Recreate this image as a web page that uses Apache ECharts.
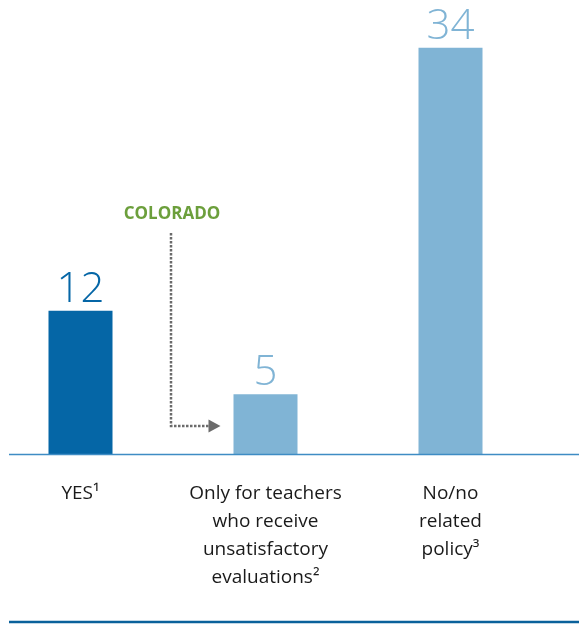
<!DOCTYPE html>
<html>
<head>
<meta charset="utf-8">
<script src="https://cdn.jsdelivr.net/npm/echarts@6/dist/echarts.min.js"></script>
<style>
  html, body { margin: 0; padding: 0; background: #fff; }
  #chart { width: 579px; height: 624px; }
</style>
</head>
<body>
<div id="chart"></div>
<script>
// Number of states by policy answer
const categories = [
  'YES¹',
  'Only for teachers\nwho receive\nunsatisfactory\nevaluations²',
  'No/no\nrelated\npolicy³'
];
const counts = [12, 5, 34];
const barColors = ['#0566a6', '#80b4d5', '#80b4d5'];
const calloutText = 'COLORADO';

const chart = echarts.init(document.getElementById('chart'));

const option = {
  animation: false,
  grid: { left: -12, width: 555, top: 0, bottom: 170, outerBoundsMode: 'none', containLabel: false },
  xAxis: {
    type: 'category',
    data: categories,
    axisLine: { show: false },
    axisTick: { show: false },
    axisLabel: {
      interval: 0,
      margin: 26,
      fontFamily: 'Open Sans',
      fontSize: 19,
      lineHeight: 28,
      color: '#1a1a1a',
      align: 'center'
    }
  },
  yAxis: {
    type: 'value',
    min: 0,
    max: 38,
    show: false,
    splitLine: { show: false }
  },
  series: [{
    type: 'bar',
    barWidth: 64,
    data: counts.map((v, i) => ({
      value: v,
      itemStyle: { color: barColors[i] },
      label: { color: barColors[i] }
    })),
    label: {
      show: true,
      position: 'top',
      distance: 0,
      fontFamily: 'Open Sans',
      fontWeight: 300,
      fontSize: 42
    }
  }]
};
chart.setOption(option);

// Baseline, bottom rule and the callout arrow
const y0 = chart.convertToPixel({ gridIndex: 0 }, [0, 0])[1];
const p5 = chart.convertToPixel({ gridIndex: 0 }, [1, counts[1]]);
const arrowY = y0 - 28;
const lineX = 171;
const arrowTipX = p5[0] - 32 - 13;

chart.setOption({
  graphic: [
    {
      type: 'line',
      shape: { x1: 9, y1: y0 + 0.5, x2: 579, y2: y0 + 0.5 },
      style: { stroke: '#3e8cc4', lineWidth: 1.5 },
      z: 10
    },
    {
      type: 'line',
      shape: { x1: 9, y1: 622, x2: 579, y2: 622 },
      style: { stroke: '#0a619b', lineWidth: 2.5 }
    },
    {
      type: 'text',
      style: {
        text: calloutText,
        x: 172, y: 214,
        align: 'center', verticalAlign: 'middle',
        fontFamily: 'Open Sans', fontWeight: 'bold', fontSize: 17,
        fill: '#6c9f3c'
      }
    },
    {
      type: 'polyline',
      shape: { points: [[lineX, 233], [lineX, arrowY], [arrowTipX - 12, arrowY]] },
      style: { stroke: '#6b6b6b', lineWidth: 2.5, lineDash: [2.5, 1.5], fill: null }
    },
    {
      type: 'polygon',
      shape: { points: [[arrowTipX - 12, arrowY - 6.5], [arrowTipX, arrowY], [arrowTipX - 12, arrowY + 6.5]] },
      style: { fill: '#6b6b6b' }
    }
  ]
});
</script>
</body>
</html>
